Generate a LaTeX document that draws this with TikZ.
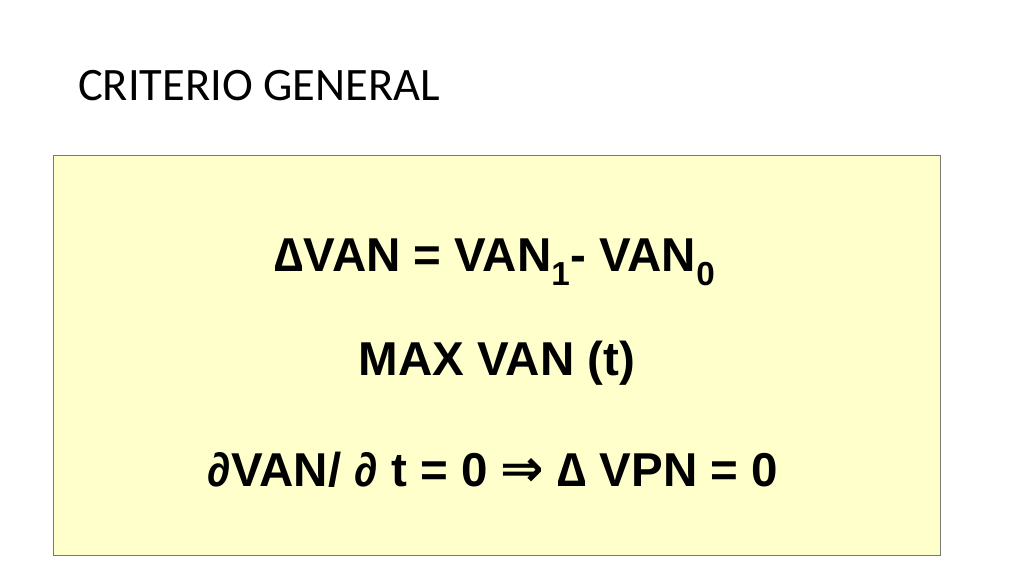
\documentclass[tikz,border=0pt]{standalone}
\usepackage{fontspec}
\setmainfont{Liberation Sans}
\newfontfamily\titlefont{Carlito}
\newfontfamily\symfont{DejaVu Sans}
\definecolor{boxfill}{RGB}{255,255,204}
\definecolor{boxline}{RGB}{120,120,120}
\begin{document}
\begin{tikzpicture}[x=1pt,y=-1pt,
  formula/.style={font=\fontsize{47.5}{56}\selectfont\bfseries, anchor=base, inner sep=0pt}]
\useasboundingbox (0,0) rectangle (1024,576);
\node[font=\titlefont\fontsize{46.5}{54}\selectfont, anchor=base west, inner sep=0pt] (title) at (78,100) {CRITERIO GENERAL};
\node[draw=boxline, fill=boxfill, line width=0.8pt, minimum width=887pt, minimum height=400pt, anchor=north west, inner sep=0pt] (box) at (53,155) {};
\node[formula] (f1) at (495,271) {∆VAN = VAN\textsubscript{1}- VAN\textsubscript{0}};
\node[formula] (f2) at (497,375) {MAX VAN (t)};
\node[formula] (f3) at (493,486) {∂VAN/ ∂ t = 0 {\symfont\fontsize{52}{56}\selectfont ⇒} ∆ VPN = 0};
\end{tikzpicture}
\end{document}
